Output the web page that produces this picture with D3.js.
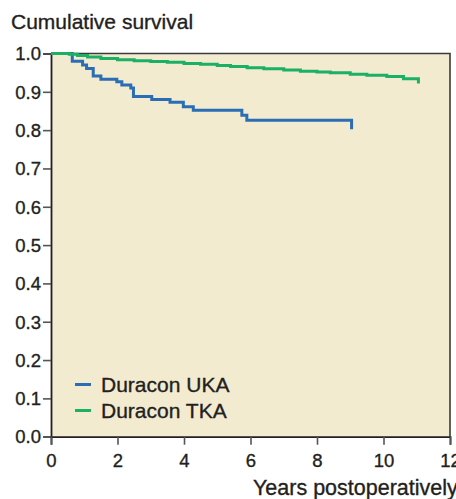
<!DOCTYPE html>
<html>
<head>
<meta charset="utf-8">
<script src="https://cdn.jsdelivr.net/npm/d3@7"></script>
<style>
  body { margin: 0; background: #fff; }
  svg { display: block; font-family: 'Liberation Sans', Arial, sans-serif; }
  text { stroke: #231f20; stroke-width: 0.35px; }
</style>
</head>
<body>
<script>
// tick labels
const yTicks = [0, 0.1, 0.2, 0.3, 0.4, 0.5, 0.6, 0.7, 0.8, 0.9, 1.0]
const xTicks = [0, 2, 4, 6, 8, 10, 12]

// Duracon UKA: [years, cumulative survival]
const ukaSteps = [
  [0, 1.0], [0.64, 0.980], [0.95, 0.970], [1.07, 0.961], [1.27, 0.941],
  [1.50, 0.933], [1.98, 0.926], [2.13, 0.918], [2.40, 0.910], [2.48, 0.888],
  [3.03, 0.880], [3.58, 0.873], [3.98, 0.861], [4.28, 0.852], [5.74, 0.839],
  [5.89, 0.826], [9.04, 0.826], [9.04, 0.802],
]

// Duracon TKA
const tkaSteps = [
  [0, 1.0], [0.55, 0.998], [0.8, 0.995], [1.1, 0.991], [1.5, 0.987],
  [2.0, 0.984], [2.5, 0.981], [3.0, 0.979], [3.5, 0.977], [4.0, 0.974],
  [4.5, 0.972], [5.0, 0.969], [5.4, 0.966], [5.9, 0.963], [6.4, 0.960],
  [7.0, 0.957], [7.5, 0.954], [8.0, 0.952], [8.4, 0.950], [9.0, 0.946],
  [9.5, 0.943], [10.1, 0.940], [10.6, 0.934], [11.05, 0.934], [11.05, 0.922],
]

const seriesNames = ['Duracon UKA', 'Duracon TKA']
const seriesColors = ['#2b6db4', '#1bb063']

const W = 456
const H = 499
const plot = { left: 51, right: 450, top: 53.5, bottom: 436.7 }

const svg = d3.select('body').append('svg').attr('width', W).attr('height', H)

const x = d3.scaleLinear().domain([0, 12]).range([plot.left, plot.right])
const y = d3.scaleLinear().domain([0, 1]).range([plot.bottom, plot.top])

svg.append('rect').attr('x', plot.left).attr('y', plot.top)
  .attr('width', plot.right - plot.left).attr('height', plot.bottom - plot.top)
  .attr('fill', '#f3ebd0')

// frame top and right
svg.append('path')
  .attr('d', `M${plot.left},${plot.top}H${plot.right}V${plot.bottom}`)
  .attr('fill', 'none').attr('stroke', '#3a3a3a').attr('stroke-width', 1.6)

const yAxis = svg.append('g').attr('transform', `translate(${plot.left},0)`)
  .call(d3.axisLeft(y).tickValues(yTicks).tickFormat(d3.format('.1f')).tickSize(8).tickPadding(2))
const xAxis = svg.append('g').attr('transform', `translate(0,${plot.bottom})`)
  .call(d3.axisBottom(x).tickValues(xTicks).tickSize(8).tickPadding(9))

;[yAxis, xAxis].forEach((ax) => {
  ax.select('.domain').attr('stroke', '#231f20').attr('stroke-width', 1.8)
  ax.selectAll('.tick line').attr('stroke', '#555').attr('stroke-width', 1.6)
  ax.selectAll('.tick text').attr('fill', '#231f20')
    .style('font-size', '18.5px').style('font-family', "'Liberation Sans', Arial, sans-serif")
})
yAxis.selectAll('.tick text').attr('dy', '0.34em')

const line = d3.line().x((d) => x(d[0])).y((d) => y(d[1])).curve(d3.curveStepAfter)

;[ukaSteps, tkaSteps].forEach((steps, i) => {
  svg.append('path').datum(steps).attr('d', line)
    .attr('fill', 'none').attr('stroke', seriesColors[i]).attr('stroke-width', 3)
})

// legend
const legend = svg.append('g')
seriesNames.forEach((name, i) => {
  const ly = 384.5 + i * 26
  legend.append('line').attr('x1', 75).attr('x2', 91).attr('y1', ly).attr('y2', ly)
    .attr('stroke', seriesColors[i]).attr('stroke-width', 3)
  legend.append('text').attr('x', 101).attr('y', ly + 7).text(name)
    .attr('fill', '#231f20').style('font-size', '21px')
})

svg.append('text').attr('x', 11).attr('y', 29).text('Cumulative survival')
  .attr('fill', '#231f20').style('font-size', '21px')
svg.append('text').attr('x', 253).attr('y', 495).text('Years postoperatively')
  .attr('fill', '#231f20').style('font-size', '21.5px')
</script>
</body>
</html>
